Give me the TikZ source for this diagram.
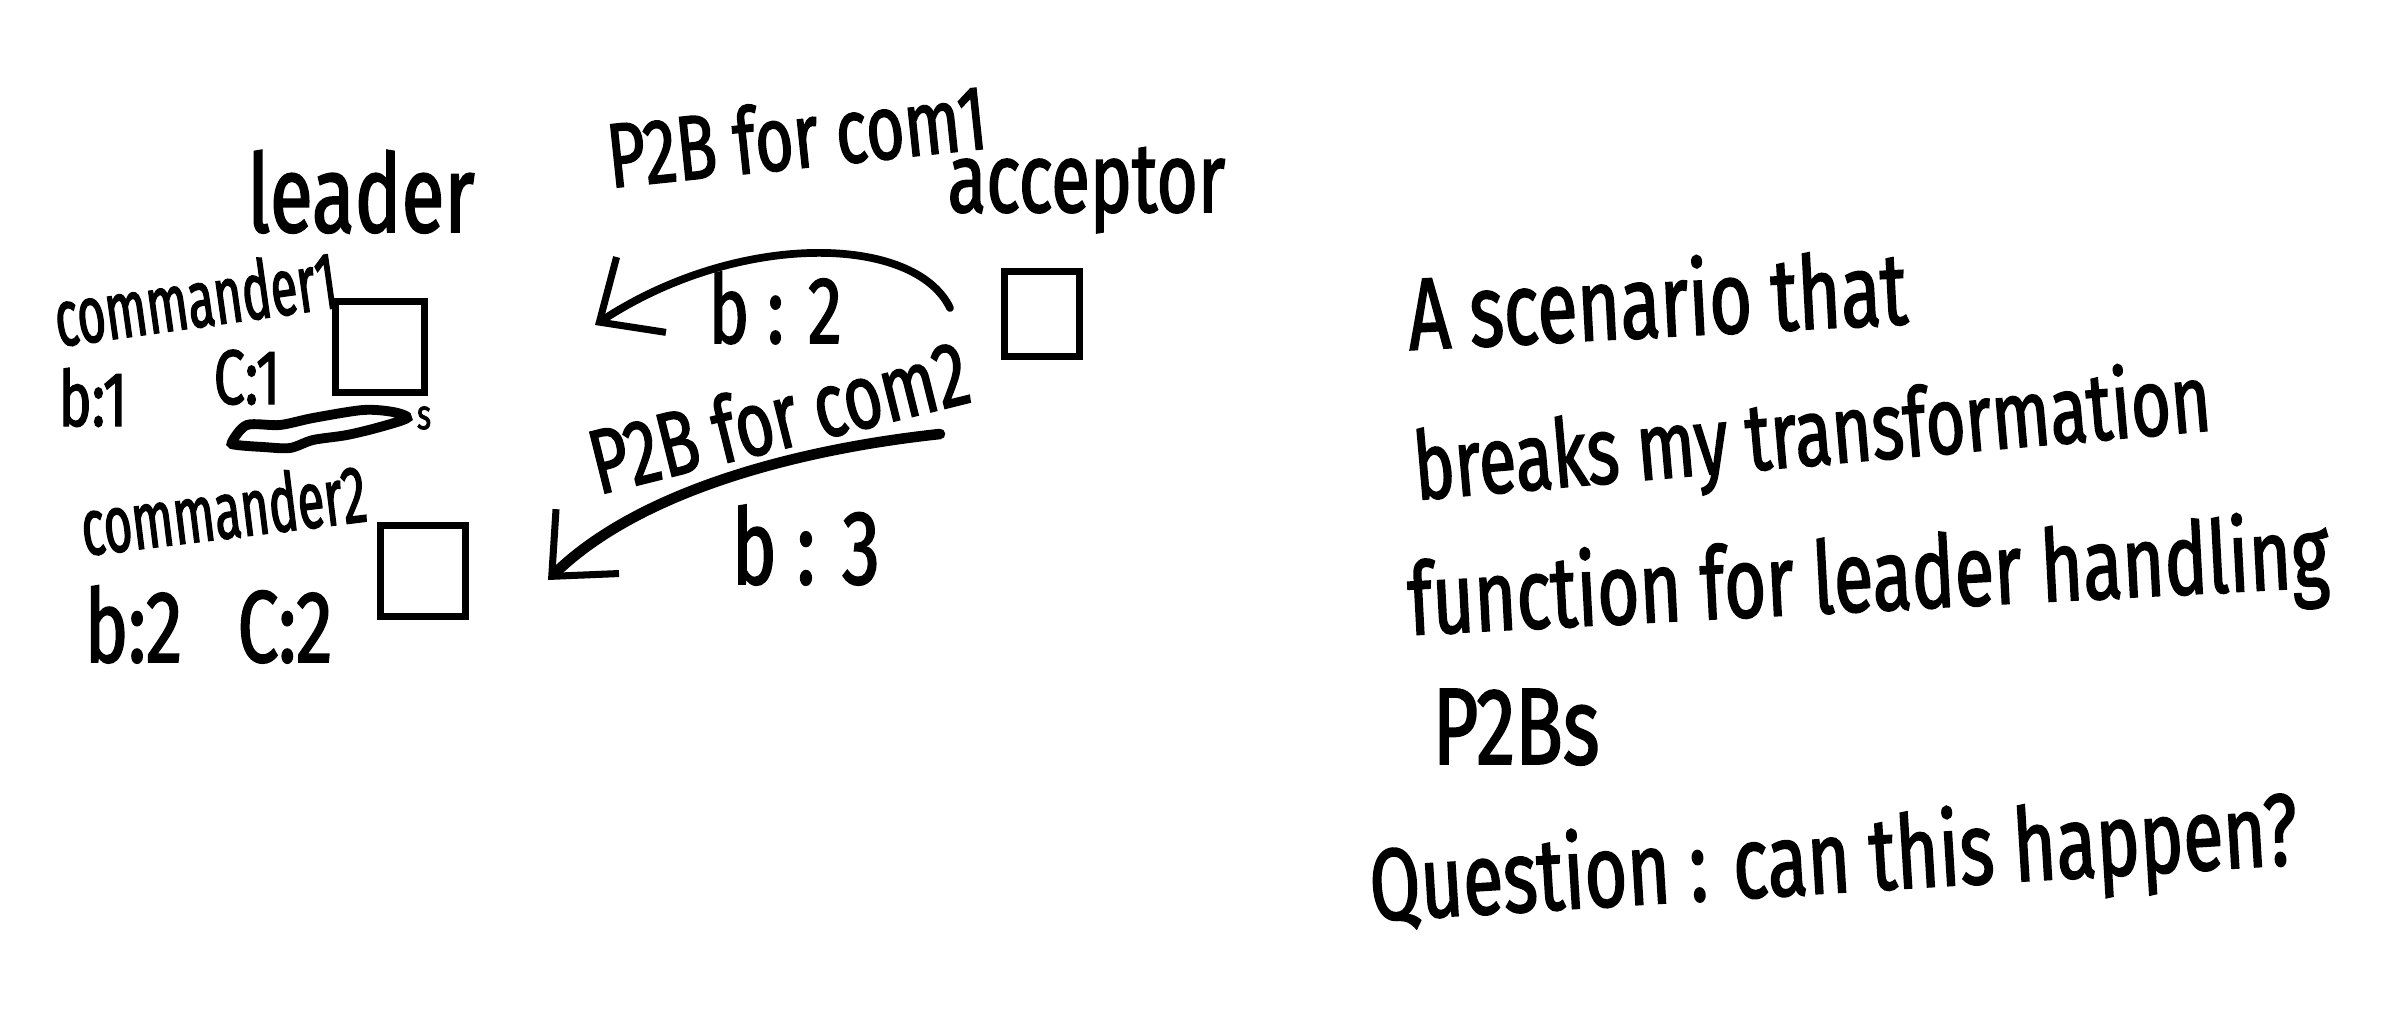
\documentclass[tikz,border=0pt]{standalone}
\usepackage{fontspec}
\newfontfamily\handfont{Fira Sans}[FakeStretch=0.72,FakeBold=1.6]
\newfontfamily\narrowfont{Fira Sans}[FakeStretch=0.6,FakeBold=1.6]
\usetikzlibrary{arrows.meta}

\begin{document}
\begin{tikzpicture}[x=0.01cm,y=-0.01cm,
  hand/.style={font=\handfont\fontsize{28}{32}\selectfont,inner sep=0pt},
  small/.style={font=\handfont\fontsize{22}{26}\selectfont,inner sep=0pt},
  narrow/.style={font=\narrowfont\fontsize{23}{27}\selectfont,inner sep=0pt},
  box/.style={draw,line width=2pt,minimum width=0.88cm,minimum height=0.9cm,inner sep=0pt},
  msg/.style={line width=2.2pt,line cap=round,-{Straight Barb[length=5mm,width=9mm,line width=2pt]}}]
\useasboundingbox (0,0) rectangle (2388,1015);
% leader side
\node[hand,font=\handfont\fontsize{31}{34}\selectfont,anchor=base] (leader) at (361,232) {leader};
\node[narrow,rotate=8,anchor=base west] (com1) at (58,347) {commander1};
\node[box] (box1) at (380,347) {};
\node[small,anchor=base west] (b1) at (58,426) {b:1};
\node[small,anchor=base west] (c1) at (213,404) {C:1};
\draw[line width=2.8pt] plot[smooth cycle] coordinates {(232,442) (247,425) (280,425) (313,418) (363,410) (393,412) (407,418) (380,427) (347,435) (313,440) (290,448) (263,447) (237,445)};
\node[font=\handfont\fontsize{12}{14}\selectfont,inner sep=0pt] (s1) at (424,418) {s};
\node[narrow,rotate=7,anchor=base west] (com2) at (84,556) {commander2};
\node[box,minimum width=0.84cm] (box2) at (423,571) {};
\node[small,font=\handfont\fontsize{29}{33}\selectfont,anchor=base west] (bc2) at (84,662) {b:2\hspace{0.35em} C:2};
% acceptor side
\node[hand,font=\handfont\fontsize{26}{30}\selectfont,rotate=6,anchor=base west] (p2b1) at (610,188) {P2B for com1};
\node[hand,anchor=base west] (acc) at (947,212) {acceptor};
\node[box,minimum width=0.75cm,minimum height=0.85cm] (accbox) at (1042,314) {};
\coordinate (p2b1from) at (950,308);
\coordinate (p2b1to) at (595,325);
\draw[msg] (p2b1from) .. controls (915,235) and (740,230) .. (p2b1to);
\node[small,font=\handfont\fontsize{27}{31}\selectfont,anchor=base west] (b2) at (708,343) {b : 2};
\node[hand,font=\handfont\fontsize{26}{30}\selectfont,rotate=14,anchor=base west] (p2b2) at (598,495) {P2B for com2};
\coordinate (p2b2from) at (940,434);
\coordinate (p2b2to) at (548,580);
\draw[msg,line width=3pt] (p2b2from) .. controls (800,449) and (640,490) .. (p2b2to);
\node[hand,font=\handfont\fontsize{30}{34}\selectfont,anchor=base west] (b3) at (731,584) {b : 3};
% the note
\node[hand,font=\handfont\fontsize{29}{33}\selectfont,rotate=3,anchor=base west] (note1) at (1409,350) {A scenario that};
\node[hand,font=\handfont\fontsize{27}{31}\selectfont,rotate=5,anchor=base west] (note2) at (1416,500) {breaks my transformation};
\node[hand,font=\handfont\fontsize{28.5}{32}\selectfont,rotate=3,anchor=base west] (note3) at (1409,635) {function for leader handling};
\node[hand,font=\handfont\fontsize{31}{35}\selectfont,anchor=base west] (note4) at (1432,764) {P2Bs};
\node[hand,font=\handfont\fontsize{29}{33}\selectfont,rotate=3.5,anchor=base west] (note5) at (1371,921) {Question : can this happen?};
\end{tikzpicture}
\end{document}
